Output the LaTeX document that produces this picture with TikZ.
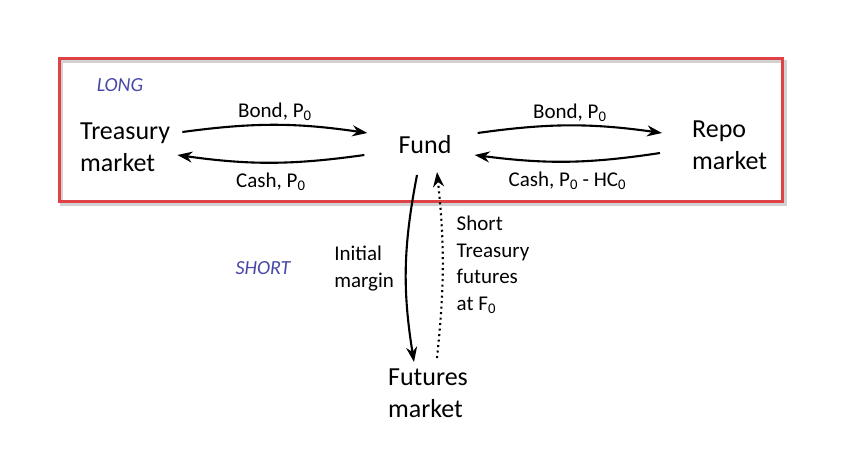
\documentclass[tikz,border=0pt]{standalone}
\usepackage{fontspec}
\setmainfont{Carlito}
\usetikzlibrary{arrows.meta}
\definecolor{framered}{RGB}{222,66,68}
\definecolor{tagblue}{RGB}{72,72,168}

\begin{document}
\begin{tikzpicture}[x=1pt,y=-1pt,
    market/.style={align=left,inner sep=0pt,font=\fontsize{26}{32}\selectfont},
    flowlabel/.style={inner sep=0pt,font=\fontsize{21}{26.5}\selectfont},
    tag/.style={inner sep=0pt,text=tagblue,font=\itshape\fontsize{20}{24}\selectfont},
    link/.style={line width=2.1pt,-{Stealth[length=15pt,width=11pt]}}]
    \useasboundingbox (0,0) rectangle (848,461);
    % long box
    \draw[gray!35,line width=3pt] (61,61) rectangle (785,204);
    \draw[framered,line width=3pt] (59,58) rectangle (782,201);
    \node[tag] (long) at (120,85) {LONG};
    \node[tag] (short) at (263,268) {SHORT};
    % markets
    \node[market,anchor=west] (tsy) at (80,147) {Treasury\\market};
    \node[market] (fund) at (425,145) {Fund};
    \node[market,anchor=west] (repo) at (692,145) {Repo\\market};
    \node[market] (fut) at (428,393) {Futures\\market};
    % cash and bond flows
    \draw[link] ([shift={(12,-15)}]tsy.east) to[bend left=8]
        node[flowlabel,midway,above=3pt]{Bond, P\textsubscript{0}} ([shift={(-31,-12)}]fund.west);
    \draw[link] ([shift={(-34,10)}]fund.west) to[bend left=8]
        node[flowlabel,midway,below=9pt]{Cash, P\textsubscript{0}} ([shift={(7,8)}]tsy.east);
    \draw[link] ([shift={(26,-12)}]fund.east) to[bend left=8]
        node[flowlabel,midway,above=3pt]{Bond, P\textsubscript{0}} ([shift={(-30,-12)}]repo.west);
    \draw[link] ([shift={(-32,8)}]repo.west) to[bend left=8]
        node[flowlabel,midway,below=9pt]{Cash, P\textsubscript{0} - HC\textsubscript{0}} ([shift={(23,10)}]fund.east);
    % futures
    \draw[link] ([shift={(-8,30)}]fund.center) to[bend right=10]
        node[flowlabel,midway,left=11pt,align=left]{Initial\\margin} ([shift={(-14,-31)}]fut.center);
    \draw[link,dash pattern=on 2pt off 3.5pt] ([shift={(9,-35)}]fut.center) to[bend right=6]
        node[flowlabel,midway,right=13pt,align=left]{Short\\Treasury\\futures\\at F\textsubscript{0}} ([shift={(12,27)}]fund.center);
\end{tikzpicture}
\end{document}
